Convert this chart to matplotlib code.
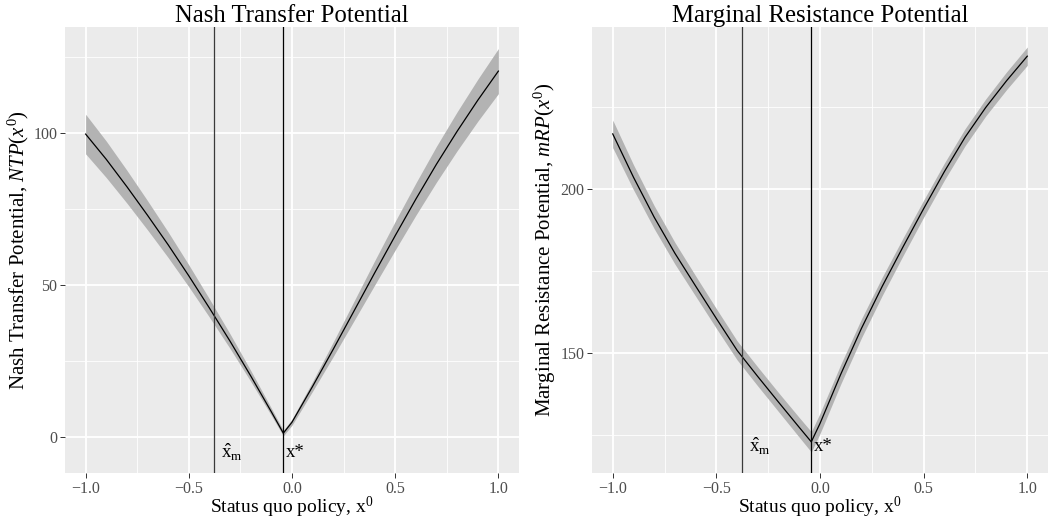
import matplotlib
matplotlib.use("Agg")
import matplotlib.pyplot as plt
from matplotlib.ticker import FixedLocator

plt.rcParams['font.family'] = ['Liberation Serif', 'DejaVu Serif']
plt.rcParams['mathtext.fontset'] = 'custom'
plt.rcParams['mathtext.rm'] = 'Liberation Serif'
plt.rcParams['mathtext.it'] = 'Liberation Serif:italic'
plt.rcParams['mathtext.bf'] = 'Liberation Serif:bold'

# ---------------- data ----------------
x_vals = [-1.0, -0.9, -0.8, -0.7, -0.6, -0.5, -0.4, -0.3, -0.2, -0.1, -0.042,
          0.0, 0.1, 0.2, 0.3, 0.4, 0.5, 0.6, 0.7, 0.8, 0.9, 1.0]

ntp = [99.7, 91.4, 82.4, 73.0, 63.3, 53.1, 42.5, 31.6, 20.2, 8.4, 1.4,
       5.0, 16.8, 29.0, 41.5, 54.0, 66.3, 78.3, 89.8, 100.6, 110.8, 120.4]
ntp_lo = [93.2, 85.4, 77.0, 68.2, 59.1, 49.5, 39.5, 29.2, 18.4, 7.2, 0.5,
          4.0, 15.2, 26.6, 38.3, 50.0, 61.6, 73.0, 83.9, 94.2, 103.9, 113.0]
ntp_hi = [106.2, 97.4, 87.8, 77.8, 67.5, 56.7, 45.5, 34.0, 22.0, 9.6, 2.3,
          6.0, 18.4, 31.4, 44.7, 58.0, 71.0, 83.6, 95.7, 107.0, 117.7, 127.8]

mrp = [216.8, 203.6, 191.4, 180.4, 170.4, 160.5, 150.8, 142.8, 135.0, 127.3, 122.9,
       128.5, 143.5, 157.5, 170.3, 182.3, 194.0, 205.3, 215.8, 224.9, 233.0, 240.5]
mrp_lo = [212.6, 199.8, 187.9, 177.1, 167.3, 157.5, 147.9, 139.9, 132.1, 124.3, 119.8,
          125.4, 140.5, 154.6, 167.5, 179.6, 191.4, 202.7, 213.2, 222.3, 230.3, 237.7]
mrp_hi = [221.0, 207.4, 194.9, 183.7, 173.5, 163.5, 153.7, 145.7, 137.9, 130.3, 126.0,
          131.6, 146.5, 160.4, 173.1, 185.0, 196.6, 207.9, 218.4, 227.5, 235.7, 243.3]

x_m_hat = -0.378
x_star = -0.042

label_y_left = -5.0
label_y_right = 121.4

x_ticks = [-1.0, -0.5, 0.0, 0.5, 1.0]
x_minor = [-0.75, -0.25, 0.25, 0.75]
x_ticklabels = ["\u22121.0", "\u22120.5", "0.0", "0.5", "1.0"]

left_yticks = [0, 50, 100]
left_yminor = [25, 75, 125]
right_yticks = [150, 200]
right_yminor = [125, 175, 225]

titles = ["Nash Transfer Potential", "Marginal Resistance Potential"]
ylabels = [r"Nash Transfer Potential, $\mathit{NTP}(x^0)$",
           r"Marginal Resistance Potential, $\mathit{mRP}(x^0)$"]
xlabel = r"Status quo policy, x$^{\mathrm{0}}$"

# ---------------- figure ----------------
W, H = 1050, 520
fig = plt.figure(figsize=(W / 100, H / 100), dpi=100)

ax1 = fig.add_axes([65 / W, 47 / H, 454 / W, 446 / H])
ax2 = fig.add_axes([592 / W, 47 / H, 456 / W, 446 / H])


def style(ax, yt, ym, ylim, title, ylabel):
    ax.set_facecolor('#EBEBEB')
    for s in ax.spines.values():
        s.set_visible(False)
    ax.set_xlim(-1.1, 1.1)
    ax.set_ylim(*ylim)
    ax.xaxis.set_major_locator(FixedLocator(x_ticks))
    ax.xaxis.set_minor_locator(FixedLocator(x_minor))
    ax.set_xticklabels(x_ticklabels)
    ax.yaxis.set_major_locator(FixedLocator(yt))
    ax.yaxis.set_minor_locator(FixedLocator(ym))
    ax.grid(which='major', color='white', lw=1.3)
    ax.grid(which='minor', color='white', lw=0.6)
    ax.set_axisbelow(True)
    ax.tick_params(which='major', length=3.5, width=0.7, color='#333333',
                   labelsize=11.5, labelcolor='#4D4D4D', pad=2)
    ax.tick_params(which='minor', length=0)
    ax.set_title(title, fontsize=17.8, pad=2)
    ax.set_xlabel(xlabel, fontsize=14, labelpad=-1.5)
    ax.set_ylabel(ylabel, fontsize=15, labelpad=2)


style(ax1, left_yticks, left_yminor, (-11.7, 134.9), titles[0], ylabels[0])
style(ax2, right_yticks, right_yminor, (113.4, 249.4), titles[1], ylabels[1])

for ax, y, lo, hi, ly in [(ax1, ntp, ntp_lo, ntp_hi, label_y_left),
                          (ax2, mrp, mrp_lo, mrp_hi, label_y_right)]:
    ax.fill_between(x_vals, lo, hi, color='#B3B3B3', lw=0, zorder=2)
    ax.plot(x_vals, y, color='black', lw=0.9, zorder=3)
    ax.axvline(x_m_hat, color='#3A3A3A', lw=0.9, zorder=4)
    ax.axvline(x_star, color='black', lw=0.9, zorder=4)
    ax.annotate(r"$\hat{\mathrm{x}}_{\mathrm{m}}$", xy=(x_m_hat, ly),
                xytext=(5, 0), textcoords='offset points',
                ha='left', va='center', fontsize=13.5, zorder=5)
    ax.annotate(r"x*", xy=(x_star, ly),
                xytext=(1.5, 0), textcoords='offset points',
                ha='left', va='center', fontsize=13.5, zorder=5)

fig.savefig("out.png", dpi=100)
